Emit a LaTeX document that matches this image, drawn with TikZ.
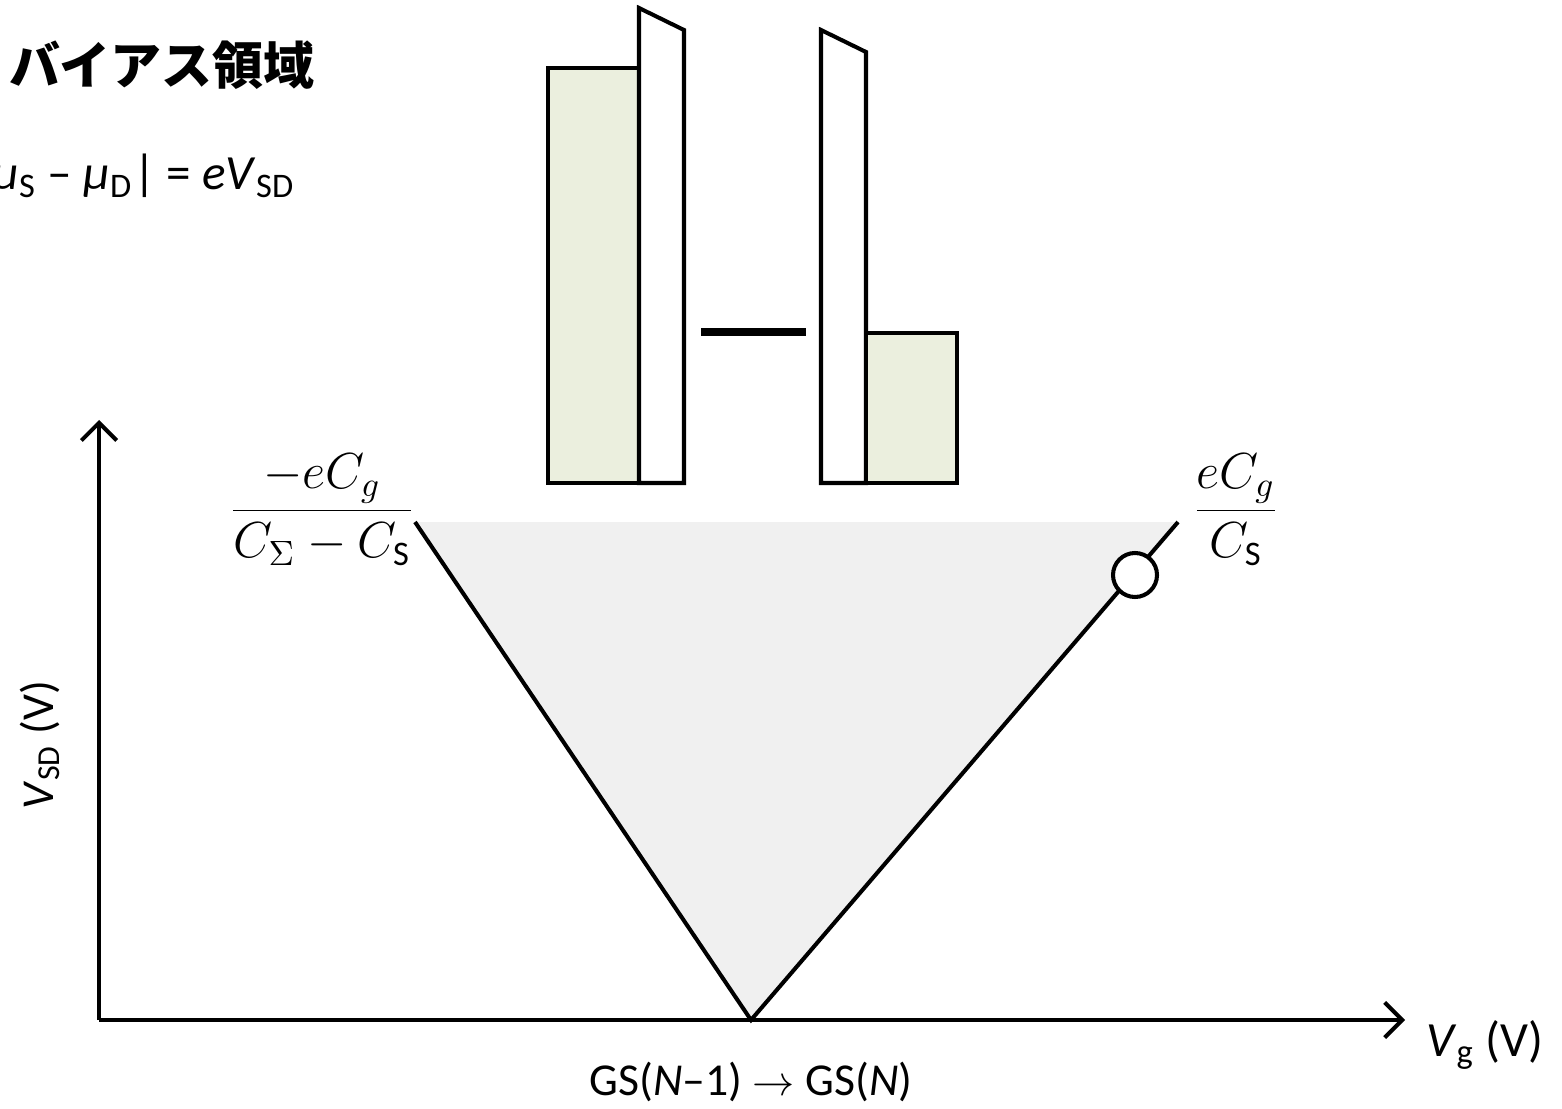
\documentclass[tikz,border=0pt]{standalone}
\usepackage{fontspec}
\setmainfont{Carlito}
\newfontfamily\jpfont{Noto Sans CJK JP}
\usetikzlibrary{arrows.meta}
\definecolor{leadgreen}{RGB}{235,239,222}
\definecolor{blockgray}{RGB}{240,240,240}
\tikzset{
  axis/.style={-{Straight Barb[length=5pt,width=10pt]}},
  barrier/.style={draw,fill=white},
  lead/.style={draw,fill=leadgreen},
  lbl/.style={font=\fontsize{14}{17}\selectfont},
}
\begin{document}
\begin{tikzpicture}[line width=1.15pt]
\useasboundingbox (0,0) rectangle (15.62,-11.09);
\clip (0,0) rectangle (15.62,-11.09);

% blockade region
\coordinate (apex) at (7.51,-10.20);
\coordinate (lefttop) at (4.15,-5.22);
\coordinate (righttop) at (11.78,-5.22);
\fill[blockgray] (lefttop) -- (righttop) -- (apex) -- cycle;
\draw (lefttop) -- (apex) -- (righttop);
\node[circle,draw,fill=white,minimum size=0.44cm,inner sep=0] (probe) at (11.35,-5.75) {};

% axes
\coordinate (origin) at (0.99,-10.20);
\coordinate (ytop) at (0.99,-4.20);
\coordinate (xend) at (14.05,-10.20);
\draw[axis] (origin) -- (ytop);
\draw[axis] (origin) -- (xend);

% band diagram
\draw[lead] (5.48,-0.68) rectangle (6.39,-4.83);
\draw[barrier] (6.39,-4.83) -- (6.39,-0.08) -- (6.84,-0.30) -- (6.84,-4.83) -- cycle;
\draw[line width=2.3pt] (7.01,-3.32) -- (8.06,-3.32);
\draw[barrier] (8.21,-4.83) -- (8.21,-0.30) -- (8.66,-0.52) -- (8.66,-4.83) -- cycle;
\draw[lead] (8.66,-3.33) rectangle (9.57,-4.83);

% labels
\node[font=\jpfont\bfseries\fontsize{14.5}{17}\selectfont,anchor=west,inner sep=0] (title) at (0.07,-0.65) {バイアス領域};
\node[font=\fontsize{14}{17}\selectfont,anchor=base east,inner sep=0] (bias) at (2.97,-1.90)
  {|\textit{μ}\textsubscript{S} – \textit{μ}\textsubscript{D}| = \textit{eV}\textsubscript{SD}};
\node[lbl] (lowfrac) at (3.22,-5.10) {$\displaystyle\frac{-eC_g}{C_\Sigma - C_\mathrm{S}}$};
\node[lbl] (highfrac) at (12.36,-5.10) {$\displaystyle\frac{eC_g}{C_\mathrm{S}}$};
\node[lbl,font=\fontsize{13}{16}\selectfont,rotate=90] (ylabel) at (0.40,-7.45) {\textit{V}\textsubscript{SD} (V)};
\node[lbl] (xlabel) at (14.85,-10.45) {\textit{V}\textsubscript{g} (V)};
\node[font=\fontsize{13}{16}\selectfont] (transition) at (7.51,-10.82) {GS(\textit{N}–1) $\rightarrow$ GS(\textit{N})};
\end{tikzpicture}
\end{document}
